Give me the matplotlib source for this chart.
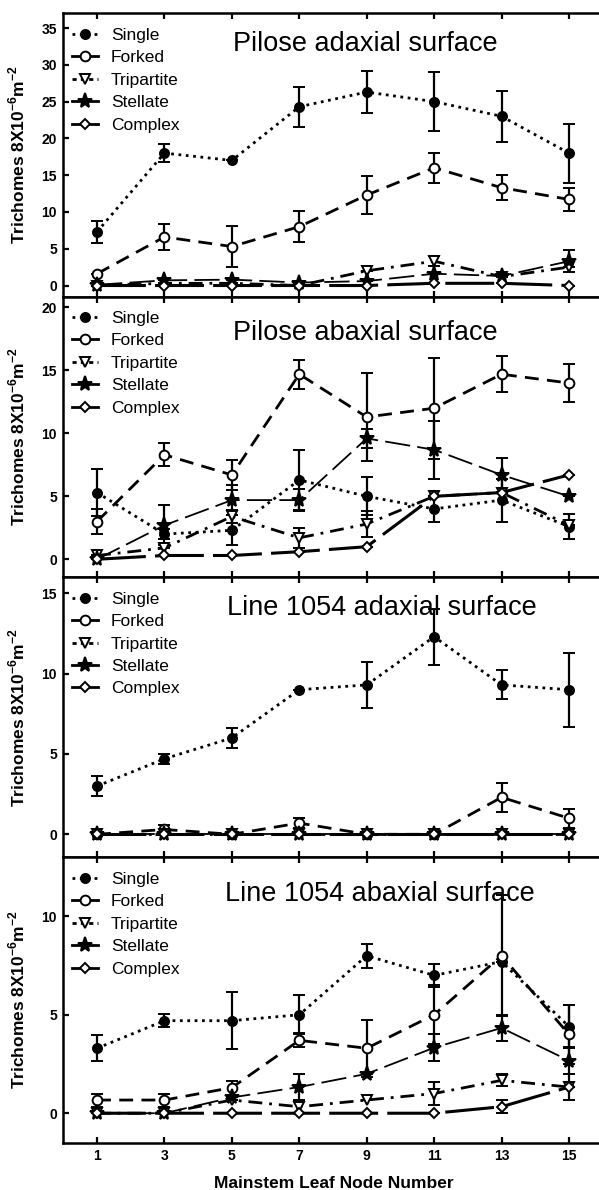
import numpy as np
import matplotlib
matplotlib.use('Agg')
import matplotlib.pyplot as plt
from matplotlib.lines import Line2D

plt.rcParams['font.family'] = ['Liberation Sans', 'DejaVu Sans']
plt.rcParams['mathtext.fontset'] = 'custom'
plt.rcParams['mathtext.rm'] = 'Liberation Sans:bold'
plt.rcParams['mathtext.bf'] = 'Liberation Sans:bold'

# leaf node numbers
nodes = [1, 3, 5, 7, 9, 11, 13, 15]
types = ['Single', 'Forked', 'Tripartite', 'Stellate', 'Complex']
titles = ['Pilose adaxial surface', 'Pilose abaxial surface',
          'Line 1054 adaxial surface', 'Line 1054 abaxial surface']

# Pilose adaxial
pa_single = [7.3, 18.0, 17.0, 24.3, 26.3, 25.0, 23.0, 18.0]
pa_single_err = [1.5, 1.2, 0, 2.7, 2.9, 4.0, 3.5, 4.0]
pa_forked = [1.6, 6.6, 5.3, 8.0, 12.3, 16.0, 13.3, 11.7]
pa_forked_err = [0, 1.8, 2.8, 2.1, 2.6, 2.0, 1.7, 1.6]
pa_tri = [0, 0.3, 0.3, 0, 2.0, 3.3, 1.2, 2.5]
pa_tri_err = [0, 0, 0, 0, 0, 0.7, 0, 0]
pa_stel = [0.1, 0.7, 0.8, 0.4, 0.6, 1.6, 1.3, 3.3]
pa_stel_err = [0, 0, 0, 0, 0, 0, 0, 1.5]
pa_comp = [0, 0, 0, 0, 0, 0.3, 0.3, 0]
pa_comp_err = [0, 0, 0, 0, 0, 0, 0, 0]

# Pilose abaxial
pb_single = [5.3, 2.0, 2.3, 6.3, 5.0, 4.0, 4.7, 2.6]
pb_single_err = [1.85, 0.4, 1.2, 2.4, 1.5, 1.0, 1.7, 1.0]
pb_forked = [3.0, 8.3, 6.7, 14.7, 11.3, 12.0, 14.7, 14.0]
pb_forked_err = [1.0, 0.9, 1.2, 1.15, 3.5, 4.0, 1.45, 1.5]
pb_tri = [0.3, 0.9, 3.4, 1.7, 2.8, 5.0, 5.3, 2.7]
pb_tri_err = [0, 0, 0.5, 0.8, 1.0, 0, 0, 0]
pb_stel = [0, 2.7, 4.7, 4.7, 9.6, 8.7, 6.7, 5.0]
pb_stel_err = [0, 1.6, 1.2, 0.9, 0.75, 2.3, 1.35, 0]
pb_comp = [0, 0.3, 0.3, 0.6, 1.0, 5.0, 5.3, 6.7]
pb_comp_err = [0, 0, 0, 0, 0, 0, 0, 0]

# Line 1054 adaxial
la_single = [3.0, 4.7, 6.0, 9.0, 9.3, 12.3, 9.3, 9.0]
la_single_err = [0.6, 0.3, 0.6, 0, 1.45, 1.75, 0.9, 2.3]
la_forked = [0, 0.3, 0, 0.7, 0, 0, 2.3, 1.0]
la_forked_err = [0, 0.3, 0, 0.3, 0, 0, 0.9, 0.6]
la_tri = [0, 0, 0, 0, 0, 0, 0, 0]
la_tri_err = [0, 0, 0, 0, 0, 0, 0, 0]
la_stel = [0, 0, 0, 0, 0, 0, 0, 0]
la_stel_err = [0, 0, 0, 0, 0, 0, 0, 0]
la_comp = [0, 0, 0, 0, 0, 0, 0, 0]
la_comp_err = [0, 0, 0, 0, 0, 0, 0, 0]

# Line 1054 abaxial
lb_single = [3.3, 4.7, 4.7, 5.0, 8.0, 7.0, 7.7, 4.4]
lb_single_err = [0.67, 0.33, 1.45, 1.0, 0.6, 0.57, 0, 1.1]
lb_forked = [0.67, 0.67, 1.3, 3.7, 3.3, 5.0, 8.0, 4.0]
lb_forked_err = [0.33, 0.33, 0.35, 0.35, 1.45, 1.5, 3.07, 1.5]
lb_tri = [0, 0, 0.67, 0.33, 0.67, 1.0, 1.67, 1.33]
lb_tri_err = [0, 0, 0, 0.33, 0, 0.6, 0.3, 0]
lb_stel = [0, 0, 0.8, 1.33, 2.0, 3.33, 4.33, 2.67]
lb_stel_err = [0, 0, 0, 0.67, 0, 0.67, 0.67, 0.67]
lb_comp = [0, 0, 0, 0, 0, 0, 0.33, 1.33]
lb_comp_err = [0, 0, 0, 0, 0, 0, 0.33, 0.67]

panels = [
    [(pa_single, pa_single_err), (pa_forked, pa_forked_err), (pa_tri, pa_tri_err),
     (pa_stel, pa_stel_err), (pa_comp, pa_comp_err)],
    [(pb_single, pb_single_err), (pb_forked, pb_forked_err), (pb_tri, pb_tri_err),
     (pb_stel, pb_stel_err), (pb_comp, pb_comp_err)],
    [(la_single, la_single_err), (la_forked, la_forked_err), (la_tri, la_tri_err),
     (la_stel, la_stel_err), (la_comp, la_comp_err)],
    [(lb_single, lb_single_err), (lb_forked, lb_forked_err), (lb_tri, lb_tri_err),
     (lb_stel, lb_stel_err), (lb_comp, lb_comp_err)],
]

ylims = [(-1.5, 37), (-1.43, 20.87), (-1.43, 16), (-1.5, 13)]
yticks = [range(0, 36, 5), range(0, 21, 5), range(0, 16, 5), range(0, 11, 5)]
boxes = [(0.7508, 0.9888), (0.5149, 0.7508), (0.2796, 0.5149), (0.0397, 0.2796)]
title_pos = [(0.56, 0.893), (0.56, 0.870), (0.59, 0.890), (0.587, 0.871)]

# style per trichome type
styles = [
    dict(marker='o', ls=':', lw=2.0, mfc='black', ms=6.5),
    dict(marker='o', ls=(0, (5, 3)), lw=2.0, mfc='white', ms=7),
    dict(marker='v', ls=(0, (5, 2.5, 1, 2.5)), lw=2.0, mfc='white', ms=7),
    dict(marker='*', ls=(0, (14, 4)), lw=1.3, mfc='black', ms=11),
    dict(marker='D', ls=(0, (16, 3)), lw=2.2, mfc='white', ms=5.5),
]
leg_ls = [':', '-', (0, (1.5, 1.5)), '-', '-']

fig = plt.figure(figsize=(5.99, 11.9), dpi=100)
left, right = 63.3 / 599, 602.7 / 599

for i, series in enumerate(panels):
    b, t = boxes[i]
    ax = fig.add_axes([left, b, right - left, t - b])
    for j, (vals, err) in enumerate(series):
        st = styles[j]
        ax.errorbar(nodes, vals, yerr=err, color='black', ecolor='black',
                    elinewidth=1.6, capsize=4, capthick=1.8,
                    marker=st['marker'], ms=st['ms'], mfc=st['mfc'], mec='black',
                    mew=1.4, ls=st['ls'], lw=st['lw'])
    ax.set_xlim(0, 16)
    ax.set_ylim(*ylims[i])
    ax.set_xticks([1, 3, 5, 7, 9, 11, 13, 15])
    ax.set_yticks(list(yticks[i]))
    for s in ['left', 'top', 'bottom']:
        ax.spines[s].set_linewidth(1.8)
    ax.spines['right'].set_visible(False)
    ax.tick_params(direction='in', length=4, width=1.6, top=True,
                   labelsize=10, pad=4.5)
    for lab in ax.get_yticklabels() + ax.get_xticklabels():
        lab.set_fontweight('bold')
    if i < 3:
        ax.tick_params(labelbottom=False)
    ax.set_ylabel(r'Trichomes 8X10$^{-6}$m$^{-2}$', fontsize=12.5,
                  fontweight='bold')
    ax.yaxis.set_label_coords(-0.066, 0.5)
    ax.text(title_pos[i][0], title_pos[i][1], titles[i], transform=ax.transAxes,
            ha='center', va='center', fontsize=19.5)
    handles = [Line2D([], [], color='black', ls=leg_ls[j], lw=2.0,
                      marker=styles[j]['marker'], mfc=styles[j]['mfc'],
                      mec='black', mew=1.4, ms=styles[j]['ms'])
               for j in range(5)]
    ax.legend(handles, types, loc='upper left', frameon=False, fontsize=12.5,
              handlelength=1.5, handletextpad=0.75, labelspacing=0.42,
              borderaxespad=0.0, borderpad=0.5, bbox_to_anchor=(0.0, 0.98))

ax.set_xlabel('Mainstem Leaf Node Number', fontsize=12.5, fontweight='bold')
ax.xaxis.set_label_coords((334 - 63.3) / (602.7 - 63.3), -0.118)

fig.savefig('out.png', dpi=100)
